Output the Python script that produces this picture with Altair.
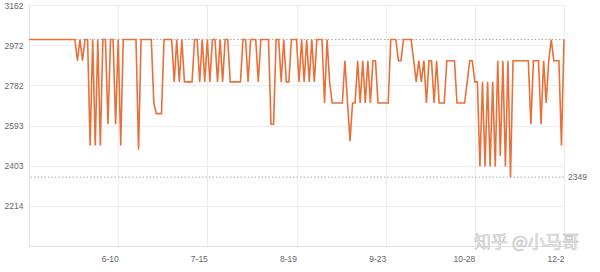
import altair as alt
import pandas as pd

start_date = "2019-05-06"
prices = [
    2999, 2999, 2999, 2999, 2999, 2999, 2999, 2999, 2999, 2999,
    2999, 2999, 2999, 2999, 2999, 2999, 2999, 2999, 2999, 2899,
    2999, 2899, 2999, 2999, 2499, 2999, 2499, 2999, 2499, 2999,
    2999, 2599, 2999, 2999, 2599, 2999, 2499, 2999, 2999, 2999,
    2999, 2999, 2999, 2479, 2999, 2999, 2999, 2999, 2999, 2699,
    2649, 2649, 2649, 2999, 2999, 2999, 2999, 2799, 2999, 2799,
    2999, 2799, 2799, 2799, 2799, 2999, 2999, 2799, 2999, 2799,
    2999, 2799, 2999, 2999, 2799, 2999, 2799, 2999, 2999, 2799,
    2799, 2799, 2799, 2799, 2999, 2999, 2799, 2999, 2999, 2999,
    2799, 2999, 2999, 2999, 2999, 2599, 2599, 2999, 2999, 2799,
    2999, 2799, 2799, 2999, 2999, 2999, 2799, 2999, 2799, 2999,
    2799, 2999, 2799, 2999, 2999, 2999, 2699, 2999, 2799, 2699,
    2699, 2699, 2699, 2699, 2899, 2709, 2519, 2699, 2699, 2899,
    2699, 2899, 2699, 2899, 2699, 2899, 2899, 2699, 2699, 2699,
    2699, 2699, 2999, 2999, 2999, 2899, 2899, 2999, 2999, 2999,
    2999, 2899, 2799, 2899, 2799, 2899, 2699, 2899, 2899, 2699,
    2899, 2699, 2699, 2699, 2899, 2899, 2899, 2899, 2699, 2699,
    2699, 2699, 2799, 2899, 2899, 2799, 2799, 2399, 2799, 2399,
    2799, 2399, 2799, 2399, 2899, 2449, 2899, 2399, 2899, 2349,
    2899, 2899, 2899, 2899, 2899, 2899, 2899, 2599, 2899, 2899,
    2899, 2599, 2899, 2699, 2899, 2999, 2899, 2899, 2899, 2499,
    2999,
]
x_tick_dates = [(2019, 6, 10), (2019, 7, 15), (2019, 8, 19), (2019, 9, 23), (2019, 10, 28), (2019, 12, 2)]
y_ticks = [2214, 2403, 2593, 2782, 2972, 3162]
y_domain = [2024, 3162]
ref_values = [2999, 2349]
ref_labels = ["", "2349"]
watermark = "知乎 @小马哥"

dates = pd.date_range(start_date, periods=len(prices), freq="D").strftime("%Y-%m-%dT00:00:00")
df = pd.DataFrame({"date": dates, "price": prices})
ref_df = pd.DataFrame({"v": ref_values, "label": ref_labels, "date": [dates[-1]] * len(ref_values)})

def dt(t):
    return alt.DateTime(year=t[0], month=t[1], date=t[2])

x_scale = alt.Scale(domain=[dt((2019, 5, 6)), dt((2019, 12, 2))], nice=False)
y_scale = alt.Scale(domain=y_domain, nice=False, zero=False)

x_axis = alt.Axis(values=[dt(t) for t in x_tick_dates], format="%-m-%-d", title=None,
                  grid=True, gridColor="#ececec", domainColor="#e2e2e2", ticks=False,
                  labelAlign="right", labelPadding=8, labelColor="#666666",
                  labelFontSize=8.5, labelFont="Liberation Sans")
y_axis = alt.Axis(values=y_ticks, format="d", title=None, grid=True, gridColor="#ececec",
                  domainColor="#e2e2e2", ticks=False, labelPadding=6,
                  labelColor="#666666", labelFontSize=8.5, labelFont="Liberation Sans")

base = alt.Chart(df)

rules = alt.Chart(ref_df).mark_rule(color="#a8a8a8", strokeDash=[1.5, 2], strokeWidth=1).encode(
    y=alt.Y("v:Q", scale=y_scale, axis=y_axis)
)

line = base.mark_line(color="#e8703a", strokeWidth=1.6, interpolate="linear").encode(
    x=alt.X("date:T", scale=x_scale, axis=x_axis),
    y=alt.Y("price:Q", scale=y_scale, axis=y_axis),
)

ref_text = alt.Chart(ref_df).mark_text(align="left", dx=4, baseline="middle", fontSize=8.5,
                                       font="Liberation Sans", color="#666666").encode(
    x=alt.X("date:T", scale=x_scale),
    y=alt.Y("v:Q", scale=y_scale),
    text="label:N",
)

wm = alt.Chart(pd.DataFrame({"t": [watermark]})).mark_text(
    align="left", baseline="alphabetic", fontSize=17, font="Noto Sans CJK SC",
    color="#ececec", stroke="#c4c4c4", strokeWidth=0.6
).encode(x=alt.value(445), y=alt.value(243), text="t:N")

chart = alt.layer(rules, line, ref_text, wm).properties(
    width=535, height=241,
    autosize=alt.AutoSizeParams(type="none"),
    padding={"left": 29, "top": 5, "right": 36, "bottom": 26},
).configure_view(stroke=None).configure(background="white")

chart.save("out.html", embed_options={"renderer": "svg", "actions": False})
